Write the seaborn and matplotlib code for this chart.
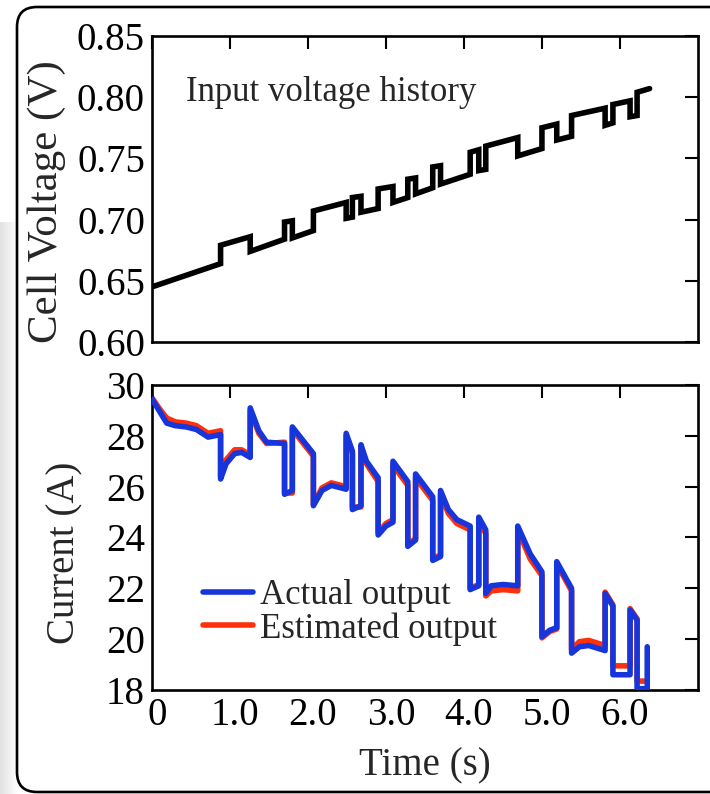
import numpy as np
import pandas as pd
import matplotlib
matplotlib.use("Agg")
import matplotlib.pyplot as plt
from matplotlib.patches import FancyBboxPatch
from matplotlib.transforms import ScaledTranslation
import seaborn as sns

# ---------------- data ----------------
volt_t = [0.00, 0.88, 0.88, 1.26, 1.26, 1.70, 1.70, 1.80, 1.80, 2.07, 2.07,
          2.49, 2.49, 2.57, 2.57, 2.68, 2.68, 2.90, 2.90, 3.09, 3.09, 3.28,
          3.28, 3.38, 3.38, 3.60, 3.60, 3.70, 3.70, 4.08, 4.08, 4.19, 4.19,
          4.28, 4.28, 4.69, 4.69, 5.00, 5.00, 5.19, 5.19, 5.38, 5.38, 5.81,
          5.81, 5.91, 5.91, 6.13, 6.13, 6.22, 6.22, 6.38]
volt_v = [0.645, 0.664, 0.679, 0.686, 0.674, 0.684, 0.698, 0.699, 0.685, 0.691, 0.707,
          0.714, 0.701, 0.702, 0.718, 0.719, 0.706, 0.709, 0.725, 0.727, 0.714, 0.718,
          0.733, 0.734, 0.721, 0.726, 0.743, 0.744, 0.729, 0.737, 0.755, 0.757, 0.740,
          0.741, 0.760, 0.767, 0.752, 0.758, 0.775, 0.778, 0.765, 0.768, 0.785, 0.791,
          0.777, 0.779, 0.794, 0.797, 0.784, 0.785, 0.804, 0.807]

cur_t = [0.00, 0.10, 0.19, 0.30, 0.44, 0.57, 0.72, 0.88, 0.88, 0.95, 1.06, 1.15,
         1.26, 1.26, 1.37, 1.47, 1.70, 1.70, 1.80, 1.80, 2.07, 2.07, 2.18, 2.30,
         2.49, 2.49, 2.57, 2.57, 2.68, 2.68, 2.75, 2.90, 2.90, 3.00, 3.09, 3.09,
         3.28, 3.28, 3.38, 3.38, 3.60, 3.60, 3.70, 3.70, 3.80, 3.91, 4.08, 4.08,
         4.19, 4.19, 4.28, 4.28, 4.35, 4.50, 4.69, 4.69, 4.85, 5.00, 5.00, 5.10,
         5.19, 5.19, 5.38, 5.38, 5.48, 5.60, 5.81, 5.81, 5.91, 5.91, 6.13, 6.13,
         6.22, 6.22, 6.35, 6.35]
cur_actual = [29.45, 28.95, 28.50, 28.40, 28.35, 28.25, 27.95, 28.05, 26.30, 26.90, 27.30, 27.35,
              27.15, 29.10, 28.20, 27.75, 27.70, 25.70, 25.85, 28.35, 27.30, 25.25, 25.85, 26.05,
              25.90, 28.10, 27.40, 25.10, 25.25, 27.65, 27.00, 26.35, 24.10, 24.45, 24.60, 27.00,
              26.20, 23.65, 23.90, 26.50, 25.60, 23.10, 23.25, 25.85, 25.10, 24.70, 24.45, 21.95,
              22.10, 24.80, 24.30, 21.80, 22.10, 22.15, 22.10, 24.45, 23.35, 22.65, 20.10, 20.35,
              20.45, 23.05, 22.00, 19.45, 19.70, 19.75, 19.55, 21.80, 21.30, 18.60, 18.60, 21.15,
              20.75, 18.05, 18.05, 19.70]
cur_est_t = cur_t[:-1]
cur_estimated = [29.50, 29.05, 28.70, 28.55, 28.50, 28.40, 28.10, 28.20, 26.40, 27.05, 27.45, 27.45,
                 27.25, 29.00, 28.10, 27.70, 27.75, 25.75, 25.75, 28.25, 27.20, 25.30, 25.95, 26.15,
                 26.00, 28.00, 27.30, 25.20, 25.20, 27.55, 26.90, 26.20, 24.20, 24.55, 24.70, 26.85,
                 26.05, 23.75, 23.95, 26.35, 25.45, 23.20, 23.30, 25.70, 24.95, 24.55, 24.30, 22.00,
                 22.15, 24.65, 24.15, 21.70, 21.90, 21.95, 21.90, 24.30, 23.15, 22.50, 20.05, 20.30,
                 20.40, 22.95, 21.90, 19.60, 19.90, 19.95, 19.75, 21.85, 21.35, 18.95, 18.95, 21.20,
                 20.80, 18.35, 18.35]

x_ticks = [0, 1, 2, 3, 4, 5, 6]
x_ticklabels = ["0", "1.0", "2.0", "3.0", "4.0", "5.0", "6.0"]
v_ticks = [0.60, 0.65, 0.70, 0.75, 0.80, 0.85]
v_ticklabels = ["0.60", "0.65", "0.70", "0.75", "0.80", "0.85"]
i_ticks = [18, 20, 22, 24, 26, 28, 30]

# ---------------- style ----------------
sns.set_theme(style="white")
plt.rcParams["font.family"] = ["Liberation Serif", "DejaVu Serif"]
plt.rcParams["axes.linewidth"] = 1.9
plt.rcParams["axes.edgecolor"] = "black"

BLUE = "#1636dc"
RED = "#ff300a"

fig = plt.figure(figsize=(7.10, 7.94), dpi=100)
fig.patch.set_facecolor("white")

# left soft shadow
sh = fig.add_axes([0, 0, 0.024, 0.72])
grad = np.linspace(0.88, 1.0, 50).reshape(1, -1)
sh.imshow(grad, cmap="gray", vmin=0, vmax=1, aspect="auto", extent=[0, 1, 0, 1])
sh.axis("off")

# rounded border
border = FancyBboxPatch((0.17, 0.02), 7.4, 7.85,
                        boxstyle="round,pad=0,rounding_size=0.2",
                        transform=fig.dpi_scale_trans, fill=False,
                        edgecolor="black", linewidth=1.9, zorder=0)
fig.patches.append(border)

ax1 = fig.add_axes([0.214, 0.5693, 0.769, 0.3854])
ax2 = fig.add_axes([0.214, 0.1310, 0.769, 0.3841])

df_v = pd.DataFrame({"t": volt_t, "v": volt_v})
sns.lineplot(data=df_v, x="t", y="v", ax=ax1, estimator=None, sort=False,
             color="black", linewidth=4.0, solid_joinstyle="miter")

df_e = pd.DataFrame({"t": cur_est_t, "i": cur_estimated})
df_a = pd.DataFrame({"t": cur_t, "i": cur_actual})
sns.lineplot(data=df_e, x="t", y="i", ax=ax2, estimator=None, sort=False,
             color=RED, linewidth=4.0, label="Estimated output", zorder=2)
sns.lineplot(data=df_a, x="t", y="i", ax=ax2, estimator=None, sort=False,
             color=BLUE, linewidth=4.0, label="Actual output", zorder=3)

for ax in (ax1, ax2):
    ax.set_xlim(0, 7.0)
    ax.set_xticks(x_ticks)
    ax.tick_params(direction="in", length=9.5, width=1.5, top=True, right=True,
                   labelsize=28, pad=5, colors="black")
    for s in ax.spines.values():
        s.set_linewidth(1.9)
        s.set_color("black")
    ax.set_facecolor("white")

ax1.set_ylim(0.60, 0.85)
ax1.set_yticks(v_ticks)
ax1.set_yticklabels(v_ticklabels)
ax1.set_xticklabels([])
ax1.set_xlabel("")
ax1.set_ylabel("Cell Voltage (V)", fontsize=31)
ax1.yaxis.set_label_coords(-0.157, 0.46)
ax1.text(0.062, 0.815, "Input voltage history", transform=ax1.transAxes,
         fontsize=25, va="center", ha="left")

ax2.set_ylim(18, 30)
ax2.set_yticks(i_ticks)
ax2.set_xticklabels(x_ticklabels)
shift = ScaledTranslation(0.05, 0, fig.dpi_scale_trans)
for lab in ax2.get_xticklabels():
    lab.set_transform(lab.get_transform() + shift)
ax2.set_xlabel("Time (s)", fontsize=28, labelpad=10)
ax2.set_ylabel("Current (A)", fontsize=28)
ax2.yaxis.set_label_coords(-0.125, 0.45)

h, l = ax2.get_legend_handles_labels()
order = [l.index("Actual output"), l.index("Estimated output")]
leg = ax2.legend([h[i] for i in order], [l[i] for i in order],
                 loc="lower left", bbox_to_anchor=(0.068, 0.10), frameon=False,
                 fontsize=25, handlelength=1.45, handletextpad=0.2,
                 labelspacing=0.0, borderaxespad=0)
for line in leg.get_lines():
    line.set_linewidth(4.0)

fig.savefig("out.png", dpi=100, facecolor="white")
